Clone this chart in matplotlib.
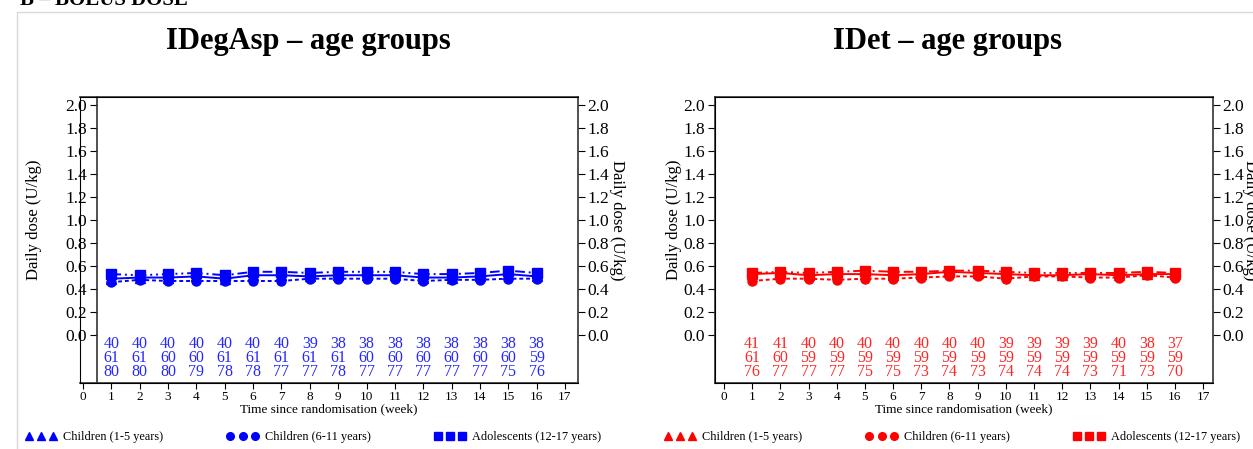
import numpy as np
import matplotlib
matplotlib.use("Agg")
from matplotlib import pyplot as plt
from matplotlib.lines import Line2D
from matplotlib.patches import Rectangle

plt.rcParams['font.family'] = ['Liberation Serif', 'DejaVu Serif']

weeks = list(range(1, 17))

# IDegAsp - mean daily bolus dose (U/kg)
degasp_1_5 = [0.49, 0.50, 0.50, 0.51, 0.49, 0.52, 0.52, 0.51, 0.52, 0.52, 0.52, 0.50, 0.50, 0.51, 0.53, 0.51]
degasp_6_11 = [0.46, 0.48, 0.47, 0.47, 0.47, 0.47, 0.47, 0.49, 0.49, 0.49, 0.49, 0.47, 0.48, 0.48, 0.49, 0.49]
degasp_12_17 = [0.53, 0.52, 0.53, 0.54, 0.52, 0.55, 0.55, 0.54, 0.55, 0.55, 0.55, 0.53, 0.53, 0.54, 0.56, 0.54]

# IDet - mean daily bolus dose (U/kg)
idet_1_5 = [0.53, 0.54, 0.52, 0.53, 0.53, 0.52, 0.53, 0.55, 0.54, 0.53, 0.52, 0.52, 0.53, 0.52, 0.53, 0.53]
idet_6_11 = [0.47, 0.49, 0.49, 0.48, 0.49, 0.49, 0.50, 0.51, 0.51, 0.49, 0.51, 0.51, 0.50, 0.50, 0.52, 0.50]
idet_12_17 = [0.54, 0.55, 0.54, 0.55, 0.56, 0.55, 0.55, 0.56, 0.56, 0.55, 0.54, 0.54, 0.54, 0.54, 0.55, 0.54]

# number of patients per week
degasp_n_1_5 = [40, 40, 40, 40, 40, 40, 40, 39, 38, 38, 38, 38, 38, 38, 38, 38]
degasp_n_6_11 = [61, 61, 60, 60, 61, 61, 61, 61, 61, 60, 60, 60, 60, 60, 60, 59]
degasp_n_12_17 = [80, 80, 80, 79, 78, 78, 77, 77, 78, 77, 77, 77, 77, 77, 75, 76]

idet_n_1_5 = [41, 41, 40, 40, 40, 40, 40, 40, 40, 39, 39, 39, 39, 40, 38, 37]
idet_n_6_11 = [61, 60, 59, 59, 59, 59, 59, 59, 59, 59, 59, 59, 59, 59, 59, 59]
idet_n_12_17 = [76, 77, 77, 77, 75, 75, 73, 74, 73, 74, 74, 74, 73, 71, 73, 70]

group_names = ['Children (1-5 years)', 'Children (6-11 years)', 'Adolescents (12-17 years)']
yticks = np.round(np.arange(0, 2.01, 0.2), 1)
W, H = 1253, 449

fig = plt.figure(figsize=(W / 100, H / 100), dpi=100)

# outer light frame
fig.patches.append(Rectangle((17 / W, -0.05), 1.2, 1 - 12 / H + 0.05, transform=fig.transFigure,
                             fill=False, edgecolor='#d8d8d8', lw=1))
fig.text(20 / W, 1 - 5 / H, 'B – BOLUS DOSE', fontsize=15, fontweight='bold', va='baseline', ha='left')


def panel(px_left, px_right, x0_px, dx_px, spine_px, color, series, counts, title, title_px,
          lab_left, lab_right, leg_x):
    ax = fig.add_axes([px_left / W, 66 / H, (px_right - px_left) / W, (383 - 97) / H])
    ax.set_xlim((px_left - x0_px) / dx_px, (px_right - x0_px) / dx_px)
    ax.set_ylim(-0.417, 2.07)
    ax.spines['left'].set_position(('data', (spine_px - x0_px) / dx_px))
    for s in ax.spines.values():
        s.set_linewidth(1.2)
        s.set_color('#333333')

    markers = ['^', 'o', 's']
    styles = ['-', (0, (2, 1.5)), (0, (5, 2, 1, 2, 1, 2))]
    for y, m, ls in zip(series, markers, styles):
        ax.plot(weeks, y, color=color, marker=m, ms=6.5, lw=1.4, ls=ls)

    # patients at risk, three groups stacked under each week
    for i, w in enumerate(weeks):
        block = '\n'.join(str(n[i]) for n in counts)
        ax.text(w, -0.2, block, color=color, fontsize=11.5, linespacing=0.8,
                ha='center', va='center', alpha=0.85)

    rax = ax.twinx()
    rax.set_ylim(ax.get_ylim())
    rax.set_yticks([])
    rax.spines['right'].set_visible(False)
    rax.set_ylabel('Daily dose (U/kg)', fontsize=12, rotation=270, va='bottom')
    rax.yaxis.set_label_coords(lab_right, 0.57)

    ax.set_xticks(range(0, 18))
    ax.tick_params(axis='x', labelsize=9.5, direction='out', length=4, pad=2)
    ax.set_yticks(yticks)
    ax.set_yticklabels([f'{t:.1f}' for t in yticks])
    ax.yaxis.set_ticks_position('both')
    ax.tick_params(axis='y', labelsize=12.5, direction='out', length=5, pad=2,
                   left=True, right=True, labelleft=True, labelright=True)
    ax.set_ylabel('Daily dose (U/kg)', fontsize=12)
    ax.yaxis.set_label_coords(lab_left, 0.57)
    ax.set_xlabel('Time since randomisation (week)', fontsize=9.5, labelpad=0)

    fig.text(title_px / W, 1 - 42 / H, title, fontsize=22, fontweight='bold', ha='center', va='center')

    handles = [Line2D([], [], color=color, marker=m, ls='none', ms=5.5) for m in markers]
    ax.legend(handles, group_names, loc='center', bbox_to_anchor=(leg_x, -0.189), ncol=3,
              numpoints=3, frameon=False, fontsize=8.8, handlelength=2.6, handletextpad=0.5,
              columnspacing=5.2)
    return ax


panel(80, 578, 83, 28.35, 97, 'blue', [degasp_1_5, degasp_6_11, degasp_12_17],
      [degasp_n_1_5, degasp_n_6_11, degasp_n_12_17], 'IDegAsp – age groups', 308,
      -0.076, 1.062, 0.468)
panel(715, 1213, 724, 28.18, 715, 'red', [idet_1_5, idet_6_11, idet_12_17],
      [idet_n_1_5, idet_n_6_11, idet_n_12_17], 'IDet – age groups', 948,
      -0.066, 1.058, 0.476)

fig.savefig('out.png', dpi=100)
